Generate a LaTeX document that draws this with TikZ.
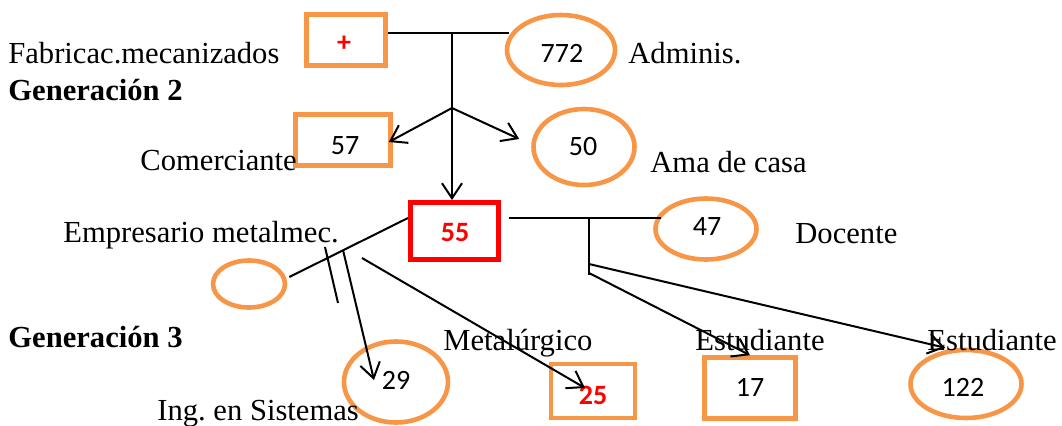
\documentclass[tikz,border=0pt]{standalone}
\usepackage{fontspec}
\setmainfont{Liberation Serif}
\newfontfamily\numfont{Carlito}
\usetikzlibrary{shapes.geometric,arrows.meta,calc}
\definecolor{orng}{HTML}{F79646}
\definecolor{rd}{HTML}{FF0000}
\tikzset{
  box/.style={draw=orng,line width=2.3pt,rectangle,inner sep=0pt,font=\numfont\fontsize{14}{16}\selectfont},
  oval/.style={draw=orng,line width=2.3pt,ellipse,inner sep=0pt,font=\numfont\fontsize{14}{16}\selectfont},
  num/.style={font=\numfont\fontsize{14}{16}\selectfont},
  lbl/.style={anchor=base west,inner sep=0pt,font=\fontsize{15.3}{18}\selectfont},
  blbl/.style={lbl,font=\fontsize{15.3}{18}\selectfont\bfseries},
  conn/.style={line width=1pt,black},
  arr/.style={conn,-{Straight Barb[length=7.5pt,width=10pt,line width=1pt]}},
  redtxt/.style={text=rd,font=\numfont\fontsize{14}{16}\selectfont\bfseries}
}
\begin{document}
\begin{tikzpicture}[x=0.5pt,y=-0.5pt]
\useasboundingbox (0,0) rectangle (1062,425);
% nodes
\node[box,minimum width=39.5pt,minimum height=25.5pt] (plus) at (346,40) {};
\node[redtxt] (plustxt) at (344,44) {+};
\node[oval,minimum width=54pt,minimum height=35pt] (e772) at (561,50) {};
\node[num] (t772) at (562,53) {772};
\node[box,minimum width=47.5pt,minimum height=25.5pt] (b57) at (343,140) {};
\node[num] (t57) at (345,146) {57};
\node[oval,minimum width=50.5pt,minimum height=38pt] (e50) at (584,147) {};
\node[num] (t50) at (583,147) {50};
\node[draw=rd,line width=2.5pt,rectangle,inner sep=0pt,minimum width=44pt,minimum height=28.5pt] (b55) at (454.5,231) {};
\node[redtxt] (t55) at (455,233) {55};
\node[oval,minimum width=50.5pt,minimum height=30.5pt] (e47) at (706,229) {};
\node[num] (t47) at (707,227) {47};
\node[oval,minimum width=36pt,minimum height=23.5pt] (es) at (249,284) {};
\node[oval,minimum width=52pt,minimum height=40.5pt] (e29) at (396,382) {};
\node[num] (t29) at (396,380) {29};
\node[box,minimum width=42pt,minimum height=27pt] (b25) at (593,391) {};
\node[redtxt] (t25) at (593,395) {25};
\node[box,minimum width=45.5pt,minimum height=30.5pt] (b17) at (750,388) {};
\node[num] (t17) at (750,387) {17};
\node[oval,minimum width=55.5pt,minimum height=34pt] (e122) at (966,384) {};
\node[num] (t122) at (963,387) {122};
% labels
\node[lbl] (l1) at (8,63) {Fabricac.mecanizados};
\node[lbl] (l2) at (628,63) {Adminis.};
\node[blbl] (g2) at (8,100) {Generación 2};
\node[lbl] (l3) at (140,170) {Comerciante};
\node[lbl] (l4) at (650,172) {Ama de casa};
\node[lbl] (l5) at (63,242) {Empresario metalmec.};
\node[lbl] (l6) at (795,243) {Docente};
\node[blbl] (g3) at (8,347) {Generación 3};
\node[lbl] (l7) at (443,350) {Metalúrgico};
\node[lbl] (l8) at (695,350) {Estudiante};
\node[lbl] (l9) at (927,350) {Estudiante};
\node[lbl] (l10) at (157,420) {Ing.\ en Sistemas};
% junctions
\coordinate (j1) at (452,33);
\coordinate (j2) at (452,108);
\coordinate (j3) at (589,218);
\coordinate (j4) at (589,275);
\coordinate (j5) at (589,264);
\coordinate (j6) at (589,273);
\coordinate (a1) at (325,247);
\coordinate (a2) at (338,303);
\coordinate (bs) at (343,250);
\coordinate (cs) at (362,258);
% connectors
\draw[conn] (plus.east |- j1) -- (j1) -- ($(e772.west |- j1)+(4,0)$);
\draw[arr] (j1) -- (j1 |- b55.north);
\draw[arr] (j2) -- ($(b57.east)+(-4,2)$);
\draw[arr] (j2) -- ($(e50.west)+(-12,-8)$);
\draw[conn] ($(b55.east |- j3)+(8,0)$) -- (j3) -- ($(e47.west |- j3)+(8,0)$);
\draw[conn] (j3) -- (j4);
\draw[arr] (j5) -- ($(e122.north)+(-21,0)$);
\draw[arr] (j6) -- (b17.north);
\draw[conn] ($(b55.west)+(0,-13)$) -- ($(es.east)+(2,-7)$);
\draw[conn] (a1) -- (a2);
\draw[arr] (bs) -- ($(e29.center)+(-22,-2)$);
\draw[arr] (cs) -- ($(b25.center)+(-8,-3)$);
\end{tikzpicture}
\end{document}
